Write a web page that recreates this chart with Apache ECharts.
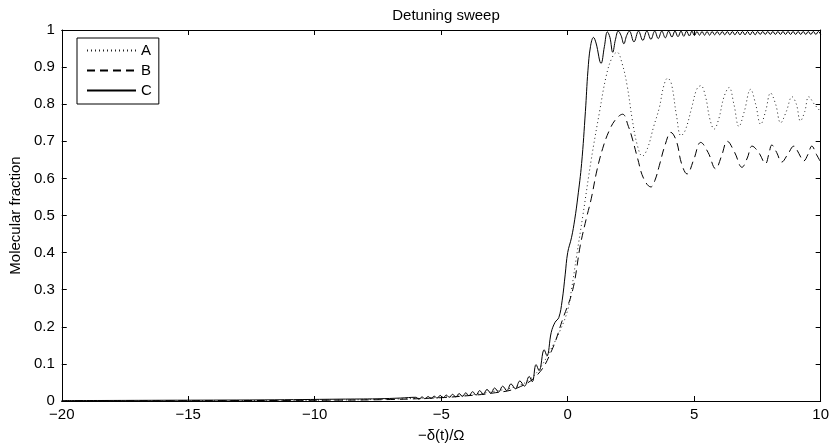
<!DOCTYPE html>
<html><head><meta charset="utf-8">
<script src="https://cdn.jsdelivr.net/npm/echarts@6/dist/echarts.min.js"></script>
<style>html,body{margin:0;padding:0;background:#fff}#c{width:832px;height:448px}</style>
</head><body><div id="c"></div>
<script>
var titleText = 'Detuning sweep';
var xName = '\u2212\u03b4(t)/\u03a9';
var yName = 'Molecular fraction';
var seriesNames = ['A', 'B', 'C'];

var aX = [-20, -14, -10, -7, -5, -4, -3, -2, -1.5, -1.1, -0.7, -0.3, 0, 0.15, 0.35, 0.6, 0.93, 1.26, 1.52, 1.75, 1.95, 2.15, 2.35, 2.55, 2.75, 2.95, 3.15, 3.4, 3.62, 3.8, 3.95, 4.1, 4.3, 4.48, 4.65, 4.9, 5.1, 5.26, 5.45, 5.62, 5.79, 5.97, 6.18, 6.38, 6.57, 6.77, 6.98, 7.23, 7.43, 7.63, 7.82, 8.02, 8.22, 8.42, 8.64, 8.87, 9.04, 9.2, 9.37, 9.53, 9.75, 10];
var aY = [0.000, 0.001, 0.002, 0.005, 0.010, 0.016, 0.025, 0.040, 0.058, 0.088, 0.135, 0.190, 0.245, 0.300, 0.390, 0.500, 0.650, 0.780, 0.875, 0.925, 0.940, 0.910, 0.850, 0.760, 0.690, 0.660, 0.680, 0.740, 0.790, 0.850, 0.870, 0.855, 0.770, 0.715, 0.730, 0.790, 0.840, 0.850, 0.820, 0.760, 0.733, 0.760, 0.820, 0.845, 0.800, 0.740, 0.780, 0.840, 0.800, 0.746, 0.780, 0.830, 0.800, 0.750, 0.780, 0.820, 0.800, 0.755, 0.780, 0.820, 0.800, 0.780];

var bX = [-20, -14, -10, -7, -5, -4, -3, -2, -1.18, -0.64, -0.2, 0.2, 0.5, 0.73, 0.93, 1.15, 1.38, 1.65, 1.91, 2.17, 2.4, 2.56, 2.76, 3.0, 3.29, 3.45, 3.62, 3.85, 4.08, 4.3, 4.5, 4.72, 4.98, 5.26, 5.55, 5.85, 6.08, 6.31, 6.6, 6.89, 7.1, 7.29, 7.55, 7.82, 7.95, 8.07, 8.26, 8.46, 8.7, 8.94, 9.14, 9.33, 9.5, 9.65, 9.83, 10];
var bY = [0.000, 0.001, 0.002, 0.004, 0.009, 0.014, 0.021, 0.035, 0.072, 0.135, 0.220, 0.300, 0.420, 0.490, 0.545, 0.620, 0.680, 0.730, 0.760, 0.773, 0.740, 0.706, 0.655, 0.600, 0.577, 0.595, 0.634, 0.690, 0.724, 0.700, 0.640, 0.612, 0.650, 0.697, 0.670, 0.626, 0.660, 0.700, 0.670, 0.630, 0.655, 0.687, 0.670, 0.640, 0.665, 0.690, 0.670, 0.644, 0.665, 0.687, 0.667, 0.647, 0.665, 0.687, 0.665, 0.644];

var cX = [-20, -16, -12, -9, -7.5, -6.6,
  -6.00, -5.88, -5.76, -5.64, -5.52, -5.40, -5.28, -5.16, -5.04, -4.92, -4.80, -4.68, -4.55, -4.42, -4.29, -4.16, -4.03, -3.90, -3.76, -3.62, -3.48, -3.34, -3.19, -3.04, -2.89, -2.73, -2.57, -2.41, -2.24, -2.07, -1.89, -1.71, -1.52, -1.40, -1.25, -1.13, -0.93, -0.82, -0.65, -0.50, -0.35, -0.22, -0.10,
  0.00, 0.15, 0.28, 0.40, 0.55, 0.70, 0.80, 0.90, 1.02, 1.12, 1.32, 1.45, 1.57, 1.67, 1.78, 1.89, 2.00, 2.11, 2.22, 2.33, 2.44, 2.62, 2.80, 2.97, 3.13, 3.29, 3.44, 3.58, 3.72, 3.86, 3.99, 4.12, 4.24, 4.36, 4.48, 4.59, 4.70, 4.81, 4.91, 5.01,
  5.11, 5.21, 5.31, 5.41, 5.51, 5.61, 5.71, 5.81, 5.91, 6.01, 6.11, 6.21, 6.31, 6.41, 6.51, 6.61, 6.71, 6.81, 6.91, 7.01, 7.11, 7.21, 7.31, 7.41, 7.51, 7.61, 7.71, 7.81, 7.91, 8.01, 8.11, 8.21, 8.31, 8.41, 8.51, 8.61, 8.71, 8.81, 8.91, 9.01, 9.11, 9.21, 9.31, 9.41, 9.51, 9.61, 9.71, 9.81, 9.91, 10.0];
var cY = [0.001, 0.002, 0.003, 0.005, 0.006, 0.008,
  0.010, 0.005, 0.011, 0.006, 0.012, 0.007, 0.013, 0.008, 0.015, 0.009, 0.016, 0.010, 0.018, 0.011, 0.020, 0.012, 0.022, 0.014, 0.025, 0.016, 0.028, 0.018, 0.031, 0.021, 0.035, 0.024, 0.040, 0.028, 0.046, 0.033, 0.054, 0.040, 0.066, 0.052, 0.098, 0.082, 0.138, 0.122, 0.185, 0.212, 0.225, 0.270, 0.340,
  0.400, 0.440, 0.490, 0.550, 0.640, 0.780, 0.890, 0.955, 0.980, 0.965, 0.910, 0.955, 0.995, 0.980, 0.940, 0.975, 0.997, 0.985, 0.963, 0.985, 0.997, 0.968, 0.997, 0.972, 0.997, 0.975, 0.997, 0.977, 0.997, 0.979, 0.997, 0.981, 0.997, 0.982, 0.997, 0.983, 0.997, 0.984, 0.997, 0.985,
  0.996, 0.986, 0.996, 0.986, 0.996, 0.986, 0.996, 0.987, 0.996, 0.987, 0.996, 0.987, 0.996, 0.987, 0.996, 0.987, 0.996, 0.987, 0.996, 0.987, 0.996, 0.987, 0.996, 0.987, 0.996, 0.988, 0.996, 0.988, 0.996, 0.988, 0.996, 0.988, 0.996, 0.988, 0.996, 0.988, 0.996, 0.988, 0.996, 0.988, 0.996, 0.988, 0.996, 0.988, 0.996, 0.988, 0.996, 0.988, 0.996, 0.988];

function zip(xs, ys) { return xs.map(function (x, i) { return [x, ys[i]]; }); }
var font = 'Liberation Sans, Arial, sans-serif';
var fs = 15;
function minus(v) { return String(v).replace('-', '\u2212'); }

var chart = echarts.init(document.getElementById('c'), null, {renderer: 'canvas'});
function axisCommon() {
  return {
    axisLine: {show: true, onZero: false, lineStyle: {color: '#000', width: 1}},
    axisTick: {show: true, inside: true, length: 5, lineStyle: {color: '#000'}},
    splitLine: {show: false}
  };
}
chart.setOption({
  animation: false,
  backgroundColor: '#fff',
  title: {text: titleText, left: 441, textAlign: 'center', top: 3,
    textStyle: {fontFamily: font, fontSize: fs, fontWeight: 'normal', color: '#000'}},
  grid: {left: 60, right: 10, top: 30, bottom: 44, containLabel: false},
  legend: {
    orient: 'vertical', left: 77, top: 38,
    data: seriesNames,
    backgroundColor: '#fff', borderColor: '#000', borderWidth: 1,
    padding: [5, 7, 6, 9], itemGap: 5, itemWidth: 49, itemHeight: 8,
    itemStyle: {opacity: 0, color: 'rgba(0,0,0,0)', borderWidth: 0},
    textStyle: {fontFamily: font, fontSize: fs, color: '#000'}
  },
  xAxis: [
    Object.assign({type: 'value', min: -20, max: 10, interval: 5, position: 'bottom',
      name: xName, nameLocation: 'middle', nameGap: 27,
      nameTextStyle: {fontFamily: font, fontSize: fs, color: '#000'},
      axisLabel: {fontFamily: font, fontSize: fs, color: '#000', margin: 6, formatter: minus}}, axisCommon()),
    Object.assign({type: 'value', min: -20, max: 10, interval: 5, position: 'top',
      axisLabel: {show: false}}, axisCommon())
  ],
  yAxis: [
    Object.assign({type: 'value', min: 0, max: 1, interval: 0.1, position: 'left',
      name: yName, nameLocation: 'middle', nameGap: 38,
      nameTextStyle: {fontFamily: font, fontSize: fs, color: '#000'},
      axisLabel: {fontFamily: font, fontSize: fs, color: '#000', margin: 7}}, axisCommon()),
    Object.assign({type: 'value', min: 0, max: 1, interval: 0.1, position: 'right',
      axisLabel: {show: false}}, axisCommon())
  ],
  series: [
    {name: 'A', type: 'line', data: zip(aX, aY), showSymbol: false, symbol: 'none', smooth: 0.4,
      lineStyle: {color: '#222', width: 1, type: [1, 3]}, itemStyle: {color: '#222'}},
    {name: 'B', type: 'line', data: zip(bX, bY), showSymbol: false, symbol: 'none', smooth: 0.4,
      lineStyle: {color: '#000', width: 1, type: [8, 5]}, itemStyle: {color: '#000'}},
    {name: 'C', type: 'line', data: zip(cX, cY), showSymbol: false, symbol: 'none', smooth: 0.4,
      lineStyle: {color: '#000', width: 1, type: 'solid'}, itemStyle: {color: '#000'}}
  ]
});
</script></body></html>
